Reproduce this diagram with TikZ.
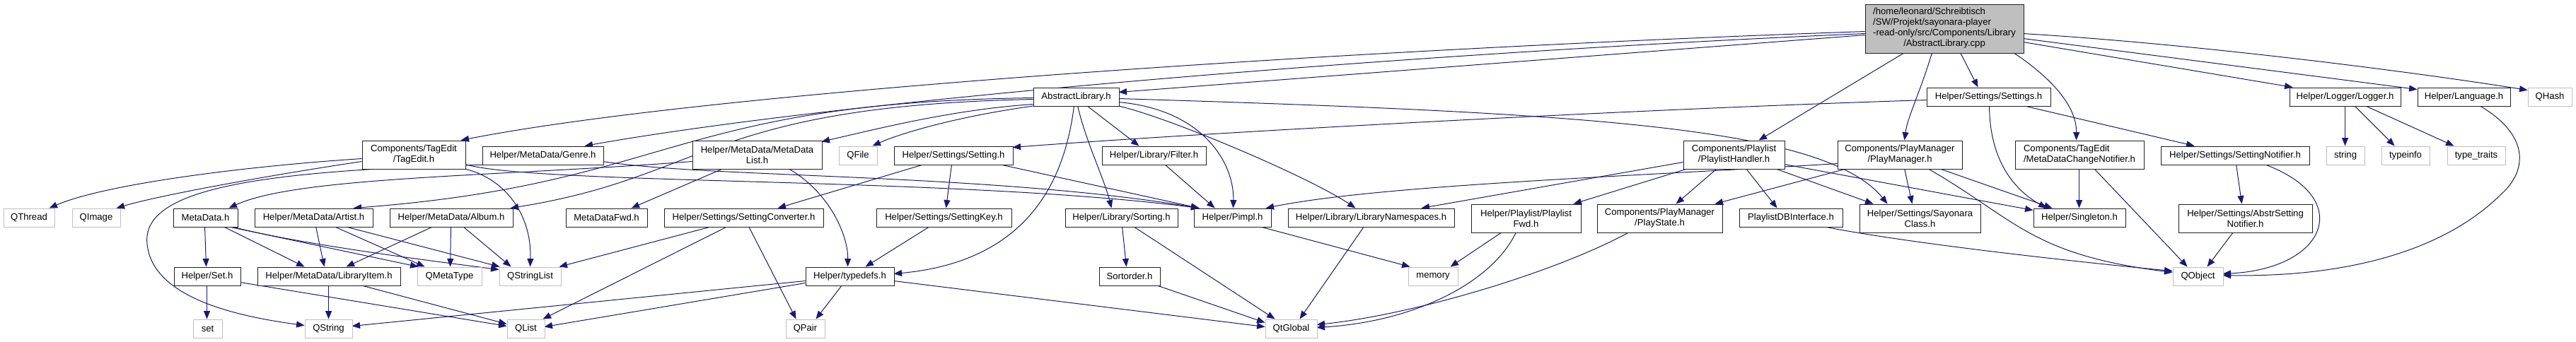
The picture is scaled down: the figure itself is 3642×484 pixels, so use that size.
\documentclass[tikz,border=0pt]{standalone}
\usepackage{fontspec}
\setmainfont{Liberation Sans}
\usetikzlibrary{arrows.meta,calc}
\definecolor{edgecol}{HTML}{191970}
\definecolor{extcol}{HTML}{BFBFBF}
\definecolor{rootfill}{HTML}{BFBFBF}
\definecolor{boxline}{HTML}{202020}
\pgfdeclarelayer{bg}
\pgfsetlayers{bg,main}
\begin{document}
\begin{tikzpicture}[x=1pt,y=-1pt,
 box/.style={draw=boxline,fill=white,line width=0.95pt,inner sep=0pt,font=\fontsize{13.1}{15}\selectfont,align=center},
 ext/.style={box,draw=extcol},
 root/.style={box,fill=rootfill},
 sz/.style n args={2}{minimum width=#1pt,minimum height=#2pt},
 edge/.style={draw=edgecol,line width=1pt,-{Triangle[length=11.5pt,width=9pt]}}]
\useasboundingbox (0,0) rectangle (3642,484);
% ---- nodes ----
\node[root,sz={224}{69}] (main) at (2749,40.5) {\begin{tabular}{@{}l@{}}/home/leonard/Schreibtisch\\/SW/Projekt/sayonara-player\\-read-only/src/Components/Library\\\multicolumn{1}{@{}c@{}}{/AbstractLibrary.cpp}\end{tabular}};
\node[box,sz={121}{26}] (absl) at (1521.5,137) {AbstractLibrary.h};
\node[box,sz={146}{40}] (tagedit) at (585,219) {Components/TagEdit\\/TagEdit.h};
\node[box,sz={171}{26}] (genre) at (767.5,220) {Helper/MetaData/Genre.h};
\node[box,sz={183}{40}] (mdlist) at (1070.5,219) {Helper/MetaData/MetaData\\List.h};
\node[ext,sz={54}{26}] (qfile) at (1213,220) {QFile};
\node[box,sz={168}{26}] (setting) at (1348,220) {Helper/Settings/Setting.h};
\node[box,sz={147}{26}] (filter) at (1631.5,220) {Helper/Library/Filter.h};
\node[ext,sz={72}{26}] (qthread) at (41,308) {QThread};
\node[ext,sz={68}{26}] (qimage) at (136,308) {QImage};
\node[box,sz={91}{26}] (metadata) at (290.5,308) {MetaData.h};
\node[box,sz={167}{26}] (artist) at (443.5,308) {Helper/MetaData/Artist.h};
\node[box,sz={174}{26}] (album) at (638,308) {Helper/MetaData/Album.h};
\node[box,sz={115}{26}] (mdfwd) at (857.5,308) {MetaDataFwd.h};
\node[box,sz={225}{26}] (setconv) at (1051.5,308) {Helper/Settings/SettingConverter.h};
\node[box,sz={191}{26}] (setkey) at (1334.5,308) {Helper/Settings/SettingKey.h};
\node[box,sz={159}{26}] (sorting) at (1585.5,308) {Helper/Library/Sorting.h};
\node[box,sz={109}{26}] (pimpl) at (1742.5,308) {Helper/Pimpl.h};
\node[box,sz={235}{26}] (libns) at (1938.5,308) {Helper/Library/LibraryNamespaces.h};
\node[box,sz={155}{40}] (plfwd) at (2157.5,309) {Helper/Playlist/Playlist\\Fwd.h};
\node[box,sz={177}{40}] (playstate) at (2346.5,309) {Components/PlayManager\\/PlayState.h};
\node[box,sz={146}{26}] (pldb) at (2532,308) {PlaylistDBInterface.h};
\node[box,sz={171}{40}] (sayonara) at (2714.5,309) {Helper/Settings/Sayonara\\Class.h};
\node[box,sz={130}{26}] (singleton) at (2940,308) {Helper/Singleton.h};
\node[box,sz={189}{40}] (abstrnot) at (3174.5,309) {Helper/Settings/AbstrSetting\\Notifier.h};
\node[box,sz={143}{40}] (plhandler) at (2451.5,219) {Components/Playlist\\/PlaylistHandler.h};
\node[box,sz={176}{40}] (playmgr) at (2686,219) {Components/PlayManager\\/PlayManager.h};
\node[box,sz={182}{40},align=left] (mdcn) at (2940,219) {Components/TagEdit\\/MetaDataChangeNotifier.h};
\node[box,sz={210}{26}] (settingnot) at (3160,220) {Helper/Settings/SettingNotifier.h};
\node[ext,sz={54}{26}] (string) at (3316,220) {string};
\node[ext,sz={68}{26}] (typeinfo) at (3401,220) {typeinfo};
\node[ext,sz={82}{26}] (typetraits) at (3501,220) {type\_traits};
\node[box,sz={175}{26}] (settings) at (2811.5,137) {Helper/Settings/Settings.h};
\node[box,sz={157}{26}] (logger) at (3315.5,137) {Helper/Logger/Logger.h};
\node[box,sz={131}{26}] (language) at (3483.5,137) {Helper/Language.h};
\node[ext,sz={62}{26}] (qhash) at (3605,137) {QHash};
\node[box,sz={94}{26}] (seth) at (293,391) {Helper/Set.h};
\node[box,sz={202}{26}] (libitem) at (465,391) {Helper/MetaData/LibraryItem.h};
\node[ext,sz={91}{26}] (qmetatype) at (635.5,391) {QMetaType};
\node[ext,sz={87}{26}] (qstringlist) at (749.5,391) {QStringList};
\node[box,sz={125}{26}] (typedefs) at (1201.5,391) {Helper/typedefs.h};
\node[box,sz={86}{26}] (sortorder) at (1597,391) {Sortorder.h};
\node[ext,sz={70}{26}] (memory) at (2026,391) {memory};
\node[ext,sz={71}{26}] (qobject) at (3107.5,391) {QObject};
\node[ext,sz={41}{26}] (setlow) at (293.5,465) {set};
\node[ext,sz={67}{26}] (qstring) at (464.5,465) {QString};
\node[ext,sz={53}{26}] (qlist) at (743.5,465) {QList};
\node[ext,sz={55}{26}] (qpair) at (1138.5,465) {QPair};
\node[ext,sz={73}{26}] (qtglobal) at (1825.5,465) {QtGlobal};
% ---- edges ----
\begin{pgfonlayer}{bg}
% main
\draw[edge] ($(main.north west)+(0,44)$) -- ($(absl.north west)+(121,7)$);
\draw[edge] ($(main.north west)+(0,39)$) .. controls (1900,70) and (1000,130) .. ($(tagedit.north west)+(140,0)$);
\draw[edge] ($(main.north west)+(0,42)$) .. controls (2000,75) and (1200,140) .. ($(genre.north west)+(145,0)$);
\draw[edge] ($(main.north west)+(56,69)$) -- ($(plhandler.north west)+(107,0)$);
\draw[edge] ($(main.north west)+(95,69)$) .. controls (2715,130) and (2697,165) .. ($(playmgr.north west)+(95,0)$);
\draw[edge] ($(main.north west)+(135,69)$) -- ($(settings.north west)+(73,0)$);
\draw[edge] ($(main.north west)+(210,69)$) .. controls (2900,110) and (2936,150) .. ($(mdcn.north west)+(87,0)$);
\draw[edge] ($(main.north west)+(224,54)$) -- ($(logger.north west)+(5,0)$);
\draw[edge] ($(main.north west)+(224,49)$) -- ($(language.north west)+(0,3)$);
\draw[edge] ($(main.north west)+(224,42)$) .. controls (3100,62) and (3400,100) .. ($(qhash.north west)+(0,4)$);
% AbstractLibrary.h
\draw[edge] ($(absl.north west)+(4,26)$) .. controls (1350,165) and (1270,190) .. ($(qfile.north west)+(48,0)$);
\draw[edge] ($(absl.north west)+(0,24)$) .. controls (1350,155) and (1250,180) .. ($(mdlist.north west)+(183,2)$);
\draw[edge] ($(absl.north west)+(0,15)$) .. controls (950,145) and (950,260) .. ($(artist.north west)+(140,0)$);
\draw[edge] ($(absl.north west)+(0,17)$) .. controls (1000,150) and (1000,250) .. ($(album.north west)+(171,0)$);
\draw[edge] ($(absl.north west)+(76,26)$) -- ($(filter.north west)+(53,0)$);
\draw[edge] ($(absl.north west)+(63,26)$) .. controls (1535,200) and (1560,250) .. ($(sorting.north west)+(66,0)$);
\draw[edge] ($(absl.north west)+(58,26)$) .. controls (1505,260) and (1450,370) .. ($(typedefs.north west)+(125,10)$);
\draw[edge] ($(absl.north west)+(121,21)$) .. controls (1700,155) and (1745,230) .. ($(pimpl.north west)+(56,0)$);
\draw[edge] ($(absl.north west)+(119,26)$) .. controls (1650,165) and (1850,250) .. ($(libns.north west)+(96,0)$);
\draw[edge] ($(absl.north west)+(121,16)$) .. controls (2250,160) and (2580,180) .. ($(sayonara.north west)+(40,0)$);
% Setting.h / Settings.h
\draw[edge] ($(setting.north west)+(43,26)$) -- ($(setconv.north west)+(161,0)$);
\draw[edge] ($(setting.north west)+(82,26)$) -- ($(setkey.north west)+(99,0)$);
\draw[edge] ($(setting.north west)+(149,26)$) -- ($(pimpl.north west)+(8,0)$);
\draw[edge] ($(settings.north west)+(0,18)$) .. controls (2300,155) and (1700,188) .. ($(setting.north west)+(168,2)$);
\draw[edge] ($(settings.north west)+(89,26)$) .. controls (2813,230) and (2850,270) .. ($(singleton.north west)+(19,0)$);
\draw[edge] ($(settings.north west)+(137,26)$) -- ($(settingnot.north west)+(48,0)$);
% Pimpl, Filter, Sorting
\draw[edge] ($(pimpl.north west)+(93,26)$) -- ($(memory.north west)+(3,0)$);
\draw[edge] ($(filter.north west)+(89,26)$) -- ($(pimpl.north west)+(30,0)$);
\draw[edge] ($(sorting.north west)+(81,26)$) -- ($(sortorder.north west)+(39,0)$);
\draw[edge] ($(sorting.north west)+(97,26)$) -- ($(qtglobal.north west)+(14,0)$);
\draw[edge] ($(sortorder.north west)+(81,26)$) -- ($(qtglobal.north west)+(0,5)$);
% typedefs
\draw[edge] ($(typedefs.north west)+(0,20)$) -- ($(qstring.north west)+(67,10)$);
\draw[edge] ($(typedefs.north west)+(0,23)$) -- ($(qlist.north west)+(53,11)$);
\draw[edge] ($(typedefs.north west)+(52,26)$) -- ($(qpair.north west)+(43,0)$);
\draw[edge] ($(typedefs.north west)+(125,20)$) -- ($(qtglobal.north west)+(0,11)$);
% SettingConverter, SettingKey
\draw[edge] ($(setconv.north west)+(68,26)$) -- ($(qstringlist.north west)+(85,0)$);
\draw[edge] ($(setconv.north west)+(90,26)$) -- ($(qlist.north west)+(51,0)$);
\draw[edge] ($(setconv.north west)+(120,26)$) -- ($(qpair.north west)+(15,0)$);
\draw[edge] ($(setkey.north west)+(76,26)$) -- ($(typedefs.north west)+(85,0)$);
% MetaDataList
\draw[edge] ($(mdlist.north west)+(0,30)$) .. controls (700,250) and (420,250) .. ($(metadata.north west)+(79,0)$);
\draw[edge] ($(mdlist.north west)+(44,40)$) -- ($(mdfwd.north west)+(93,0)$);
\draw[edge] ($(mdlist.north west)+(136,40)$) .. controls (1170,270) and (1199,330) .. ($(typedefs.north west)+(60,0)$);
% TagEdit
\draw[edge] ($(tagedit.north west)+(0,26)$) .. controls (350,235) and (150,260) .. ($(qthread.north west)+(65,0)$);
\draw[edge] ($(tagedit.north west)+(0,30)$) .. controls (400,245) and (230,275) .. ($(qimage.north west)+(63,0)$);
\draw[edge] ($(tagedit.north west)+(143,40)$) .. controls (710,250) and (752,300) .. ($(qstringlist.north west)+(44,0)$);
\draw[edge] ($(tagedit.north west)+(146,34)$) .. controls (760,262) and (1350,250) .. ($(pimpl.north west)+(8,0)$);
% Genre
\draw[edge] ($(genre.north west)+(31,26)$) .. controls (350,240) and (200,270) .. (208,345) .. controls (215,420) and (330,447) .. ($(qstring.north west)+(0,9)$);
\draw[edge] ($(genre.north west)+(171,22)$) .. controls (1000,252) and (1400,245) .. ($(pimpl.north west)+(8,0)$);
% MetaData, Artist, Album
\draw[edge] ($(metadata.north west)+(45,26)$) -- ($(seth.north west)+(46,0)$);
\draw[edge] ($(metadata.north west)+(71,26)$) -- ($(libitem.north west)+(67,0)$);
\draw[edge] ($(metadata.north west)+(77,26)$) -- ($(qmetatype.north west)+(2,0)$);
\draw[edge] ($(metadata.north west)+(82,26)$) .. controls (420,345) and (600,368) .. ($(qstringlist.north west)+(0,4)$);
\draw[edge] ($(artist.north west)+(87,26)$) -- ($(libitem.north west)+(95,0)$);
\draw[edge] ($(artist.north west)+(113,26)$) -- ($(qmetatype.north west)+(11,0)$);
\draw[edge] ($(artist.north west)+(128,26)$) -- ($(qstringlist.north west)+(1,0)$);
\draw[edge] ($(album.north west)+(62,26)$) -- ($(libitem.north west)+(126,0)$);
\draw[edge] ($(album.north west)+(87,26)$) -- ($(qmetatype.north west)+(47,0)$);
\draw[edge] ($(album.north west)+(104,26)$) -- ($(qstringlist.north west)+(17,0)$);
% Set.h, LibraryItem.h
\draw[edge] ($(seth.north west)+(47,26)$) -- ($(setlow.north west)+(20,0)$);
\draw[edge] ($(seth.north west)+(94,22)$) -- ($(qlist.north west)+(0,10)$);
\draw[edge] ($(libitem.north west)+(101,26)$) -- ($(qstring.north west)+(34,0)$);
\draw[edge] ($(libitem.north west)+(146,26)$) -- ($(qlist.north west)+(0,7)$);
% PlaylistHandler
\draw[edge] ($(plhandler.north west)+(0,31)$) -- ($(libns.north west)+(189,0)$);
\draw[edge] ($(plhandler.north west)+(7,40)$) -- ($(plfwd.north west)+(145,0)$);
\draw[edge] ($(plhandler.north west)+(48,40)$) -- ($(playstate.north west)+(112,0)$);
\draw[edge] ($(plhandler.north west)+(89,40)$) -- ($(pldb.north west)+(54,0)$);
\draw[edge] ($(plhandler.north west)+(130,40)$) -- ($(sayonara.north west)+(20,0)$);
\draw[edge] ($(plhandler.north west)+(143,34)$) -- ($(singleton.north west)+(0,3)$);
% PlayManager
\draw[edge] ($(playmgr.north west)+(0,33)$) .. controls (2300,250) and (1950,262) .. ($(pimpl.north west)+(102,0)$);
\draw[edge] ($(playmgr.north west)+(14,40)$) -- ($(playstate.north west)+(167,0)$);
\draw[edge] ($(playmgr.north west)+(95,40)$) -- ($(sayonara.north west)+(75,0)$);
\draw[edge] ($(playmgr.north west)+(144,40)$) -- ($(singleton.north west)+(27,0)$);
\draw[edge] ($(playmgr.north west)+(128,40)$) .. controls (2850,310) and (2870,360) .. ($(qobject.north west)+(0,8)$);
\draw[edge] ($(pldb.north west)+(119,26)$) .. controls (2700,345) and (2950,372) .. ($(qobject.north west)+(0,6)$);
% MetaDataChangeNotifier, notifiers
\draw[edge] ($(mdcn.north west)+(91,40)$) -- ($(singleton.north west)+(65,0)$);
\draw[edge] ($(mdcn.north west)+(112,40)$) -- ($(qobject.north west)+(21,0)$);
\draw[edge] ($(settingnot.north west)+(107,26)$) -- ($(abstrnot.north west)+(90,0)$);
\draw[edge] ($(settingnot.north west)+(147,26)$) .. controls (3330,280) and (3290,380) .. ($(qobject.north west)+(71,10)$);
\draw[edge] ($(abstrnot.north west)+(78,40)$) -- ($(qobject.north west)+(49,0)$);
\draw[edge] ($(language.north west)+(88,26)$) .. controls (3575,190) and (3575,240) .. (3536,275) .. controls (3440,370) and (3280,392) .. ($(qobject.north west)+(71,12)$);
% Logger
\draw[edge] ($(logger.north west)+(79,26)$) -- ($(string.north west)+(27,0)$);
\draw[edge] ($(logger.north west)+(92,26)$) -- ($(typeinfo.north west)+(19,0)$);
\draw[edge] ($(logger.north west)+(107,26)$) -- ($(typetraits.north west)+(10,0)$);
% PlaylistFwd, PlayState, LibraryNamespaces
\draw[edge] ($(plfwd.north west)+(44,40)$) -- ($(memory.north west)+(60,0)$);
\draw[edge] ($(plfwd.north west)+(64,40)$) .. controls (2110,400) and (2000,455) .. ($(qtglobal.north west)+(73,12)$);
\draw[edge] ($(playstate.north west)+(46,40)$) .. controls (2200,385) and (2000,445) .. ($(qtglobal.north west)+(73,8)$);
\draw[edge] ($(libns.north west)+(108,26)$) -- ($(qtglobal.north west)+(49,0)$);
\end{pgfonlayer}
\end{tikzpicture}
\end{document}
